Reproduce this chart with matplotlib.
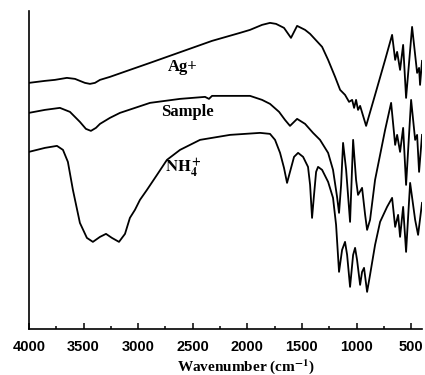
import matplotlib
matplotlib.use("Agg")
import matplotlib.pyplot as plt
from matplotlib.ticker import MultipleLocator

plt.rcParams['mathtext.fontset'] = 'stix'

# FTIR spectra (wavenumber cm-1, offset transmittance a.u.)
ag_wn = [4000, 3853, 3762, 3652, 3578, 3533, 3487, 3441, 3395, 3349, 3258, 3075,
         2891, 2323, 2067, 1975, 1865, 1792, 1737, 1664, 1600, 1544, 1471, 1425,
         1315, 1260, 1196, 1150, 1105, 1068, 1040, 1022, 1004, 986, 967, 912,
         830, 738, 674, 646, 628, 601, 573, 546, 491, 445, 427, 418, 400]
ag_t = [246, 248, 249, 251, 250, 248, 246, 245, 246, 249, 252, 259,
        266, 288, 296, 299, 304, 306, 305, 301, 291, 303, 299, 295,
        282, 269, 252, 239, 234, 227, 229, 221, 229, 219, 223, 203,
        234, 269, 294, 269, 277, 259, 284, 231, 302, 256, 261, 244, 268]

sample_wn = [4000, 3853, 3716, 3624, 3533, 3478, 3432, 3386, 3349, 3258, 3166,
             2891, 2616, 2387, 2351, 2323, 1975, 1865, 1792, 1709, 1655, 1609,
             1581, 1544, 1471, 1398, 1334, 1260, 1215, 1178, 1160, 1141, 1123,
             1095, 1059, 1031, 1004, 986, 949, 921, 903, 876, 830, 784, 738,
             683, 646, 628, 601, 573, 546, 500, 463, 445, 427, 400]
sample_t = [216, 219, 221, 217, 207, 200, 198, 201, 205, 211, 216,
            226, 230, 232, 230, 233, 233, 229, 225, 217, 209, 203,
            206, 210, 205, 196, 189, 176, 159, 132, 116, 144, 186,
            159, 107, 189, 149, 134, 141, 114, 99, 109, 149, 174, 199,
            226, 184, 194, 177, 201, 144, 229, 189, 194, 157, 194]

nh4_wn = [4000, 3853, 3743, 3688, 3643, 3597, 3533, 3469, 3414, 3349, 3294,
          3240, 3175, 3120, 3075, 3029, 2983, 2919, 2827, 2736, 2616, 2433,
          2158, 1883, 1792, 1746, 1700, 1664, 1636, 1609, 1572, 1535, 1489,
          1444, 1425, 1407, 1389, 1370, 1352, 1315, 1260, 1215, 1187, 1160,
          1132, 1105, 1086, 1059, 1031, 1013, 995, 967, 949, 931, 903, 876,
          830, 784, 720, 674, 646, 619, 601, 573, 546, 509, 463, 436, 400]
nh4_t = [177, 181, 183, 179, 167, 139, 106, 91, 87, 92, 95,
         91, 87, 95, 111, 119, 129, 139, 154, 169, 179, 189,
         194, 196, 195, 189, 176, 161, 146, 157, 172, 176, 172,
         162, 144, 111, 134, 157, 162, 159, 147, 131, 104, 57,
         79, 87, 74, 42, 74, 81, 69, 44, 57, 61, 37, 54,
         84, 107, 122, 131, 102, 114, 92, 122, 77, 146, 109, 94, 126]

fig = plt.figure(figsize=(4.25, 3.75), dpi=100)
ax = fig.add_axes([0.068, 0.123, 0.925, 0.848])

for wn, t in [(ag_wn, ag_t), (sample_wn, sample_t), (nh4_wn, nh4_t)]:
    ax.plot(wn, t, color='black', lw=1.3, solid_joinstyle='round')

ax.set_xlim(4000, 400)
ax.set_ylim(0, 318)

tfont = dict(family='Liberation Serif', weight='bold', size=12)
ax.text(2589, 262, 'Ag+', ha='center', va='center', **tfont)
ax.text(2552, 217, 'Sample', ha='center', va='center', **tfont)
ax.text(2589, 161, r'$\mathbf{NH_4^+}$', ha='center', va='center', size=12)

ax.spines['top'].set_visible(False)
ax.spines['right'].set_visible(False)
ax.spines['left'].set_linewidth(1.2)
ax.spines['bottom'].set_linewidth(1.2)
ax.set_yticks([])

ax.xaxis.set_major_locator(MultipleLocator(500))
ax.xaxis.set_minor_locator(MultipleLocator(250))
ax.tick_params(axis='x', which='major', direction='in', length=4, width=1.1, pad=8)
ax.tick_params(axis='x', which='minor', direction='in', length=2.5, width=1.1)
for lab in ax.get_xticklabels():
    lab.set_family('Liberation Sans')
    lab.set_fontweight('bold')
    lab.set_fontsize(10.5)

ax.set_xlabel(r'Wavenumber (cm$^{\mathbf{-1}}$)', family='Liberation Serif',
              weight='bold', size=11, va='center')
ax.xaxis.set_label_coords(0.552, -0.118)

fig.savefig('out.png', dpi=100)
